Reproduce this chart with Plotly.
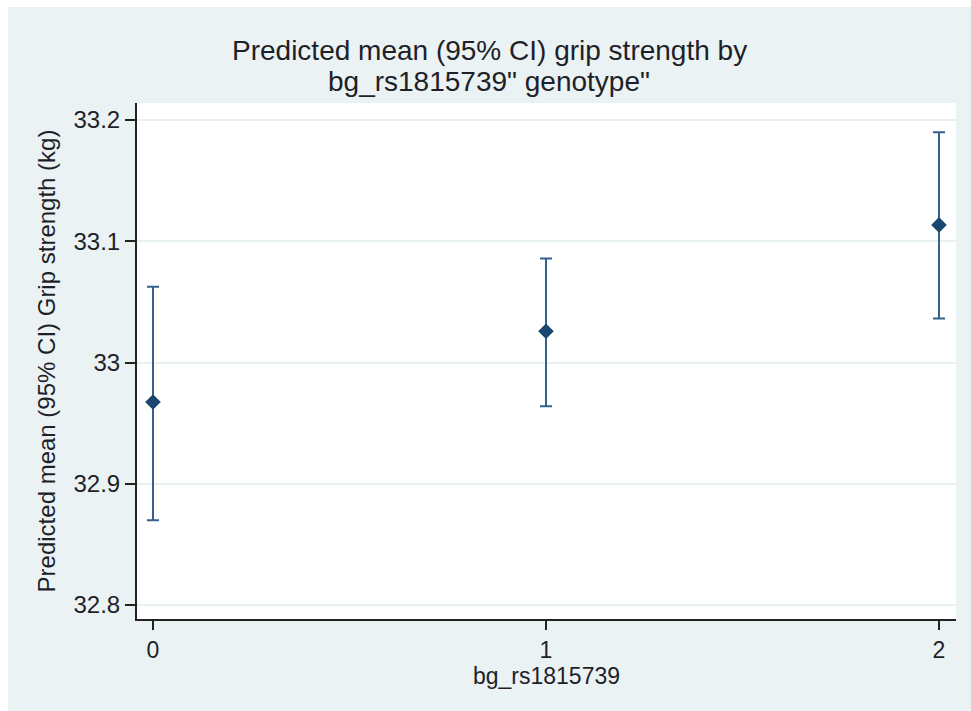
import plotly.graph_objects as go

# Predicted mean grip strength (kg) with 95% CI by genotype
genotype = [0, 1, 2]
pred_mean = [32.9675, 33.0258, 33.1135]
ci_lower = [32.8700, 32.9640, 33.0363]
ci_upper = [33.0624, 33.0858, 33.1898]
y_ticks = [32.8, 32.9, 33.0, 33.1, 33.2]
y_tick_text = ["32.8", "32.9", "33", "33.1", "33.2"]
x_ticks = [0, 1, 2]

err_plus = [u - m for u, m in zip(ci_upper, pred_mean)]
err_minus = [m - l for m, l in zip(pred_mean, ci_lower)]

NAVY = "#1a476f"
BG = "#eaf2f3"
TXT = "#1f1f2a"
FONT = "Liberation Sans, Arial, sans-serif"

W, H = 971, 711
ML, MR, MT, MB = 137, 15, 103, 92
PW, PH = W - ML - MR, H - MT - MB

fig = go.Figure()
fig.add_trace(go.Scatter(
    x=genotype,
    y=pred_mean,
    mode="markers",
    marker=dict(symbol="diamond", size=12, color=NAVY, line=dict(width=0)),
    error_y=dict(
        type="data",
        symmetric=False,
        array=err_plus,
        arrayminus=err_minus,
        color="#34608a",
        thickness=2,
        width=6,
    ),
    showlegend=False,
    hoverinfo="skip",
))

# white page edge along the left and top of the graph region
fig.add_shape(type="rect", xref="paper", yref="paper",
              x0=-ML / PW, x1=(8 - ML) / PW, y0=-MB / PH - 0.01, y1=(H - MB) / PH + 0.01,
              fillcolor="white", line=dict(width=0), layer="below")
fig.add_shape(type="rect", xref="paper", yref="paper",
              x0=-ML / PW, x1=1 + MR / PW + 0.01, y0=(H - MB - 7) / PH, y1=(H - MB) / PH + 0.01,
              fillcolor="white", line=dict(width=0), layer="below")

# two-line title with tight line spacing
fig.add_annotation(text="Predicted mean (95% CI) grip strength by",
                   xref="paper", yref="paper",
                   x=(489 - ML) / PW, y=(H - MB - 50) / PH,
                   xanchor="center", yanchor="middle", showarrow=False,
                   font=dict(family=FONT, size=28, color=TXT))
fig.add_annotation(text="bg_rs1815739\" genotype\"",
                   xref="paper", yref="paper",
                   x=(489 - ML) / PW, y=(H - MB - 82) / PH,
                   xanchor="center", yanchor="middle", showarrow=False,
                   font=dict(family=FONT, size=28, color=TXT))

fig.update_layout(
    width=W, height=H,
    margin=dict(l=ML, r=MR, t=MT, b=MB, autoexpand=False),
    paper_bgcolor=BG,
    plot_bgcolor="white",
    font=dict(family=FONT, color=TXT),
    xaxis=dict(
        range=[-0.0407, 2.0433],
        tickmode="array", tickvals=x_ticks,
        ticks="outside", ticklen=9, tickwidth=2, tickcolor="#222",
        showline=True, linecolor="#222", linewidth=2,
        showgrid=False, zeroline=False,
        tickfont=dict(family=FONT, size=23, color=TXT),
        title=dict(text="bg_rs1815739", font=dict(family=FONT, size=23, color=TXT), standoff=0),
        automargin=False,
    ),
    yaxis=dict(
        range=[32.7885, 33.214],
        tickmode="array", tickvals=y_ticks, ticktext=y_tick_text,
        ticks="outside", ticklen=10, tickwidth=2, tickcolor="#222",
        showline=True, linecolor="#222", linewidth=2,
        showgrid=True, gridcolor="#e8f0f1", gridwidth=1.5,
        zeroline=False,
        tickfont=dict(family=FONT, size=24, color=TXT),
        title=dict(text="Predicted mean (95% CI) Grip strength (kg)",
                   font=dict(family=FONT, size=24, color=TXT), standoff=11),
        automargin=False,
    ),
)

fig.write_html("out.html")
